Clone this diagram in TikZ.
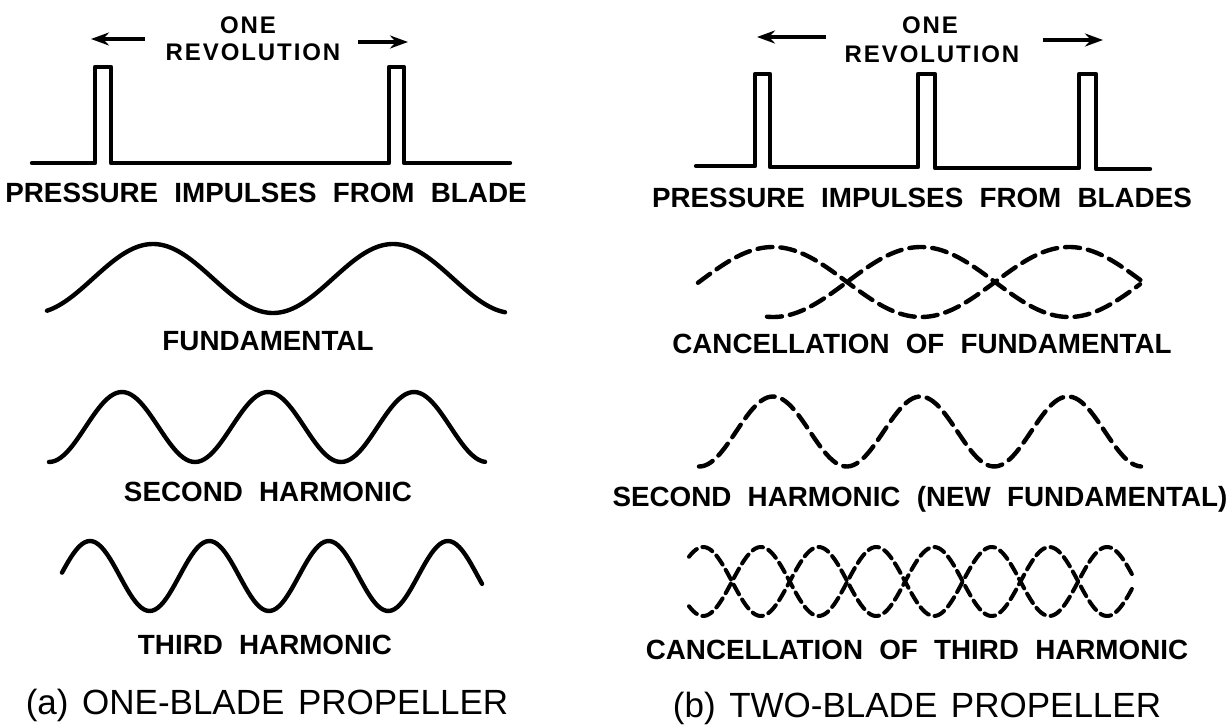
\documentclass[tikz,border=0pt]{standalone}
\usepackage{fontspec}
\setmainfont{Liberation Sans}[WordSpace=2.1]
\newfontfamily\titlefont{Liberation Sans}[WordSpace=1.4]
\usetikzlibrary{arrows.meta}

\begin{document}
\begin{tikzpicture}[
    x=1pt, y=-1pt,
    lbl/.style={anchor=base, inner sep=0pt, font=\fontsize{27.8}{30}\selectfont\bfseries},
    rev/.style={anchor=base, inner sep=0pt, font=\fontsize{24}{26}\selectfont\bfseries\addfontfeature{LetterSpace=8}},
    ttl/.style={anchor=base, inner sep=0pt, font=\titlefont\fontsize{35}{38}\selectfont},
    trace/.style={line width=4.4pt, line join=round, line cap=round},
    dtrace/.style={trace, dash pattern=on 15pt off 8pt},
    ftrace/.style={trace, line width=4pt, dash pattern=on 11pt off 6pt},
    arr/.style={->, line width=3.5pt},
    >={Stealth[length=18pt, width=13pt]}
]
    \useasboundingbox (0,0) rectangle (1229,728);

    \draw[trace] (32,163) -- (95,163) -- (95,67) -- (111,67) -- (111,163) -- (389,163)
        -- (389,67) -- (404,67) -- (404,163) -- (510,163);
    \draw[trace] (696,166) -- (755,166) -- (755,74) -- (770,74) -- (770,167) -- (918,167)
        -- (918,74) -- (935,74) -- (935,168) -- (1079,168) -- (1079,74) -- (1096,74)
        -- (1096,169) -- (1150,169);

    \node[rev] (oneA) at (248,33) {ONE};
    \node[rev] (revA) at (253,60) {REVOLUTION};
    \node[rev] (oneB) at (930,33) {ONE};
    \node[rev] (revB) at (932,62) {REVOLUTION};
    \coordinate (tailAl) at (145,39);
    \coordinate (tipAl)  at (91,39);
    \coordinate (tailAr) at (358,42);
    \coordinate (tipAr)  at (408,42);
    \coordinate (tailBl) at (826,37);
    \coordinate (tipBl)  at (757,37);
    \coordinate (tailBr) at (1043,40);
    \coordinate (tipBr)  at (1103,40);
    \draw[arr] (tailAl) -- (tipAl);
    \draw[arr] (tailAr) -- (tipAr);
    \draw[arr] (tailBl) -- (tipBl);
    \draw[arr] (tailBr) -- (tipBr);

    \draw[trace] plot[domain=47:505, samples=150] (\x, {278.5-34.5*cos(1.5*(\x-153))});
    \draw[trace] plot[domain=49:485, samples=150] (\x, {427-35*cos(2.46575*(\x-122))});
    \draw[trace] plot[domain=62:482, samples=150] (\x, {576-35*cos(3.0176*(\x-90))});

    \draw[dtrace] plot[domain=698:1143, samples=150] (\x, {282-35*cos(1.21622*(\x-773))});
    \draw[dtrace] plot[domain=767:1140, samples=150] (\x, {282+35*cos(1.21622*(\x-773))});
    \draw[dtrace] plot[domain=699:1141, samples=150] (\x, {431.5-35*cos(2.44068*(\x-773))});
    \draw[ftrace] plot[domain=689:1133, samples=200] (\x, {581.5-34.5*sin(3.11958*(\x-732))});
    \draw[ftrace] plot[domain=689:1133, samples=200] (\x, {581.5+34.5*sin(3.11958*(\x-732))});

    \node[lbl] (pulA) at (266,202) {PRESSURE IMPULSES FROM BLADE};
    \node[lbl] (funA) at (268,350) {FUNDAMENTAL};
    \node[lbl] (secA) at (268,501) {SECOND HARMONIC};
    \node[lbl] (thiA) at (265,654) {THIRD HARMONIC};
    \node[ttl] (ttlA) at (267,714) {(a) ONE-BLADE PROPELLER};

    \node[lbl] (pulB) at (922,207) {PRESSURE IMPULSES FROM BLADES};
    \node[lbl] (funB) at (922,353) {CANCELLATION OF FUNDAMENTAL};
    \node[lbl] (secB) at (920,506) {SECOND HARMONIC (NEW FUNDAMENTAL)};
    \node[lbl] (thiB) at (917,659) {CANCELLATION OF THIRD HARMONIC};
    \node[ttl] (ttlB) at (917,717) {(b) TWO-BLADE PROPELLER};
\end{tikzpicture}
\end{document}
